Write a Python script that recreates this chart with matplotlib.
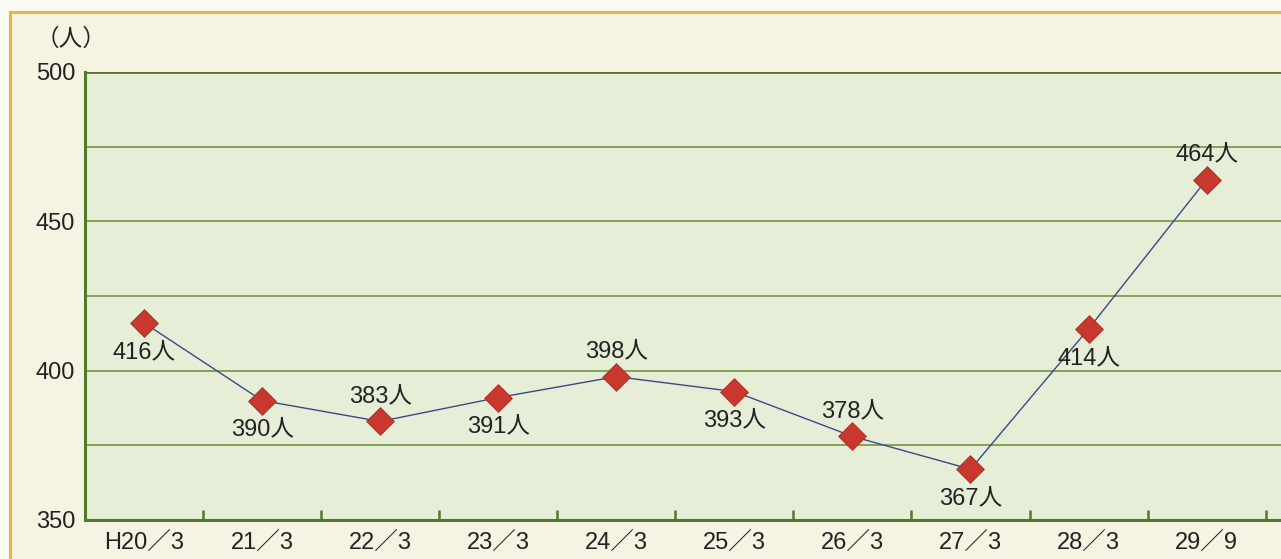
import matplotlib
matplotlib.use("Agg")
from matplotlib import pyplot as plt
from matplotlib.patches import Rectangle
import numpy as np

plt.rcParams['font.family'] = ['Liberation Sans', 'Noto Sans CJK JP', 'DejaVu Sans']

categories = ['H20／3', '21／3', '22／3', '23／3', '24／3', '25／3', '26／3', '27／3', '28／3', '29／9']
values = [416, 390, 383, 391, 398, 393, 378, 367, 414, 464]
label_pos = ['below', 'below', 'above', 'below', 'above', 'below', 'above', 'below', 'below', 'above']

fig = plt.figure(figsize=(12.81, 5.59), dpi=100)
fig.patch.set_facecolor('#fbfaf2')
# gold frame of the printed box
fig.patches.append(Rectangle((10 / 1281, -0.1), 1.2, (559 - 12) / 559 + 0.1, transform=fig.transFigure,
                             facecolor='#f6f3e3', edgecolor='#e6b740', linewidth=2.2, zorder=-5))

ax = fig.add_axes([85 / 1281, 39 / 559, 1196 / 1281, 448 / 559])
ax.set_zorder(2)
ax.set_facecolor('#e6eed8')

x = np.arange(len(values))
ax.plot(x, values, color='#3b4a86', linewidth=1.0, zorder=3)
ax.scatter(x, values, marker='D', s=200, color='#c9382e', edgecolor='#b02a22', linewidth=0.6, zorder=4)

for xi, v, pos in zip(x, values, label_pos):
    dy = -21 if pos == 'below' else 18
    ax.annotate(f'{v}人', (xi, v), xytext=(0, dy), textcoords='offset points',
                ha='center', va='center', fontsize=17, color='#222222', zorder=5)

ax.set_ylim(350, 500)
ax.set_xlim(-0.5, 9.63)
for gy in [375, 400, 425, 450, 475]:
    ax.axhline(gy, color='#7d9a4c', linewidth=1.3, zorder=1)
ax.axhline(500, color='#4e7a2a', linewidth=2.0, zorder=1)

ax.set_yticks([350, 400, 450, 500])
ax.set_yticklabels(['350', '400', '450', '500'])
ax.set_xticks(x)
ax.set_xticklabels(categories)
ax.set_xticks(np.arange(-0.5, 10, 1), minor=True)
ax.tick_params(axis='x', which='major', length=0, labelsize=17, pad=9, colors='#222222')
ax.tick_params(axis='x', which='minor', direction='in', length=7, width=1.8, color='#4e7a2a')
ax.tick_params(axis='y', length=0, labelsize=17, pad=7, colors='#222222')

for side in ['top', 'right']:
    ax.spines[side].set_visible(False)
for side in ['left', 'bottom']:
    ax.spines[side].set_color('#4e7a2a')
    ax.spines[side].set_linewidth(2.2)

fig.text(36 / 1281, 1 - 40 / 559, '（人）', fontsize=17, color='#222222', va='center', ha='left')

fig.savefig('out.png', dpi=100, facecolor=fig.get_facecolor())
